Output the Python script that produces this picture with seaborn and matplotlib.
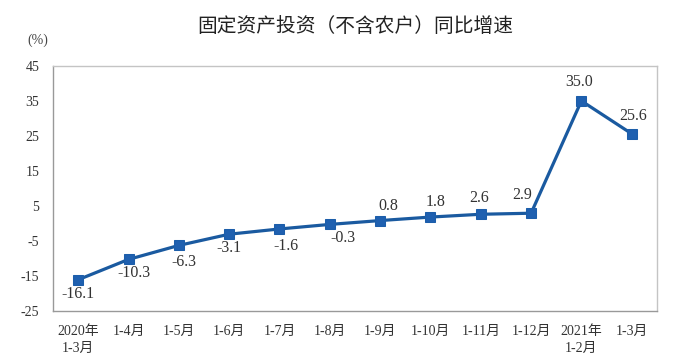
import matplotlib
matplotlib.use("Agg")
import matplotlib.pyplot as plt
import seaborn as sns
import pandas as pd

categories = ["2020年\n1-3月", "1-4月", "1-5月", "1-6月", "1-7月", "1-8月", "1-9月",
              "1-10月", "1-11月", "1-12月", "2021年\n1-2月", "1-3月"]
values = [-16.1, -10.3, -6.3, -3.1, -1.6, -0.3, 0.8, 1.8, 2.6, 2.9, 35.0, 25.6]
yticks = [-25, -15, -5, 5, 15, 25, 35, 45]

sns.set_style("white")
plt.rcParams['font.family'] = ['Liberation Serif', 'Noto Sans CJK SC', 'DejaVu Sans']
plt.rcParams['axes.unicode_minus'] = False

df = pd.DataFrame({"pos": range(len(categories)), "val": values})

fig = plt.figure(figsize=(6.8, 3.64), dpi=100)
ax = fig.add_axes([0.078, 0.146, 0.888, 0.673])
color = "#1a5aa0"
sns.lineplot(data=df, x="pos", y="val", ax=ax, color=color, linewidth=2.3,
             marker="s", markersize=7.5, markeredgecolor="#1c5eaa", markerfacecolor="#1f60b0")

ax.set_xlim(-0.5, len(categories) - 0.5)
ax.set_ylim(-25, 45)
ax.set_yticks(yticks)
ax.set_yticklabels([str(t) for t in yticks], fontsize=10, color="#333333")
ax.set_xticks(range(len(categories)))
ax.set_xticklabels(categories, fontsize=10, color="#333333", linespacing=1.45)
ax.set_xticks([i + 0.5 for i in range(len(categories) - 1)], minor=True)
ax.tick_params(axis="x", which="major", length=0, pad=10)
ax.tick_params(axis="x", which="minor", length=5, color="#999999", direction="in")
ax.tick_params(axis="y", length=4, color="#999999", direction="out", pad=6)
ax.set_xlabel("")
ax.set_ylabel("")
for s in ax.spines.values():
    s.set_color("#c4c4c4")
    s.set_linewidth(1.0)
ax.spines["left"].set_color("#999999")
ax.spines["bottom"].set_color("#999999")

# label offsets in pixels (dx, dy), positive dy is upward
offsets = [(0, -14), (5, -14), (5, -17), (0, -14), (6, -17), (13, -14),
           (8, 15), (5, 15), (-2, 16), (-9, 18), (-2, 19), (1, 18)]
for i, v in enumerate(values):
    dx, dy = offsets[i]
    ax.annotate(f"{v:.1f}", (i, v), xytext=(dx, dy), textcoords="offset pixels",
                ha="center", va="center", fontsize=11.5, color="#333333")

fig.text(0.522, 0.926, "固定资产投资（不含农户）同比增速", ha="center", va="center",
         fontsize=14.2, color="#222222", family=['Noto Sans CJK SC', 'DejaVu Sans'])
fig.text(0.056, 0.89, "(%)", ha="center", va="center", fontsize=10, color="#444444")

fig.savefig("out.png", dpi=100)
